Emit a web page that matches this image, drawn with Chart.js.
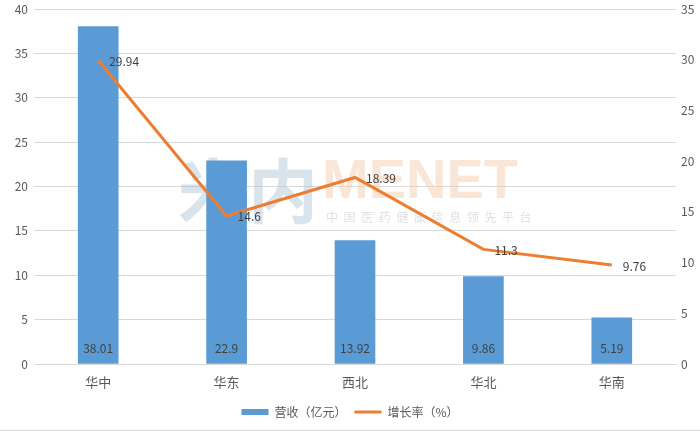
<!DOCTYPE html>
<html>
<head>
<meta charset="utf-8">
<script src="https://cdn.jsdelivr.net/npm/chart.js@4.4.0/dist/chart.umd.min.js"></script>
<style>
  html, body { margin: 0; padding: 0; background: #fff; }
  #wrap { position: relative; width: 700px; height: 432px; }
  #bottomline { position: absolute; left: 0; top: 430px; width: 700px; height: 1px; background: #dcdcdc; }
</style>
</head>
<body>
<div id="wrap">
  <canvas id="chart" width="700" height="432"></canvas>
  <div id="bottomline"></div>
</div>
<script>
const regions = ['华中', '华东', '西北', '华北', '华南'];
const revenue = [38.01, 22.9, 13.92, 9.86, 5.19];
const growth = [29.94, 14.6, 18.39, 11.3, 9.76];
const revenueLabel = '营收（亿元）';
const growthLabel = '增长率（%）';

const FONT = '"Noto Sans CJK SC", "Microsoft YaHei", sans-serif';

// watermark behind the marks
const watermark = {
  id: 'watermark',
  beforeDatasetsDraw(chart) {
    const ctx = chart.ctx;
    ctx.save();
    ctx.textBaseline = 'alphabetic';
    ctx.fillStyle = 'rgba(170,192,210,0.45)';
    ctx.font = 'bold 70px ' + FONT;
    ctx.fillText('米内', 178, 218);
    ctx.fillStyle = 'rgba(246,205,175,0.5)';
    ctx.font = 'bold 56px "Liberation Sans", sans-serif';
    ctx.fillText('MENET', 322, 198);
    ctx.fillStyle = 'rgba(200,205,210,0.6)';
    ctx.font = '12px ' + FONT;
    const txt = '中国医药健康信息领先平台';
    for (let i = 0; i < txt.length; i++) {
      ctx.fillText(txt[i], 326 + i * 17.6, 222);
    }
    ctx.restore();
  }
};

const valueLabels = {
  id: 'valueLabels',
  afterDatasetsDraw(chart) {
    const ctx = chart.ctx;
    ctx.save();
    ctx.font = '12px ' + FONT;
    ctx.fillStyle = '#404040';
    ctx.textBaseline = 'middle';
    const bars = chart.getDatasetMeta(0).data;
    ctx.textAlign = 'center';
    bars.forEach((bar, i) => {
      ctx.fillText(String(revenue[i]), bar.x, bar.base - 15);
    });
    const pts = chart.getDatasetMeta(1).data;
    ctx.textAlign = 'left';
    pts.forEach((p, i) => {
      ctx.fillText(String(growth[i]), p.x + 11, p.y + 1);
    });
    ctx.restore();
  }
};

function fitY(scale, w) {
  scale.width = w;
  scale.paddingTop = 9;
}

new Chart(document.getElementById('chart'), {
  data: {
    labels: regions,
    datasets: [
      {
        type: 'bar',
        label: revenueLabel,
        data: revenue,
        backgroundColor: '#5b9bd5',
        barThickness: 40,
        yAxisID: 'y',
        order: 2
      },
      {
        type: 'line',
        label: growthLabel,
        data: growth,
        borderColor: '#ed7d31',
        backgroundColor: '#ed7d31',
        borderWidth: 3,
        pointRadius: 0,
        pointStyle: 'line',
        tension: 0,
        yAxisID: 'y1',
        order: 1
      }
    ]
  },
  options: {
    responsive: false,
    animation: false,
    layout: { padding: { top: 0, left: 0, right: 0, bottom: 4 } },
    plugins: {
      tooltip: { enabled: false },
      legend: {
        position: 'bottom',
        labels: {
          usePointStyle: true,
          pointStyleWidth: 27,
          boxHeight: 6,
          padding: 8,
          color: '#595959',
          font: { family: FONT, size: 12 },
          generateLabels(chart) {
            return chart.data.datasets.map((ds, i) => ({
              text: ds.label,
              fillStyle: ds.backgroundColor,
              strokeStyle: ds.type === 'line' ? ds.borderColor : ds.backgroundColor,
              lineWidth: ds.type === 'line' ? 3 : 0,
              pointStyle: ds.type === 'line' ? 'line' : 'rect',
              fontColor: '#595959',
              datasetIndex: i,
              hidden: false
            }));
          }
        }
      }
    },
    scales: {
      x: {
        grid: { display: false },
        border: { color: '#d9d9d9' },
        ticks: { color: '#595959', font: { family: FONT, size: 13 }, padding: 2 },
        afterFit(scale) { scale.height = 34; }
      },
      y: {
        position: 'left',
        min: 0, max: 40,
        ticks: { stepSize: 5, color: '#595959', font: { family: FONT, size: 12 }, padding: 6 },
        grid: { color: '#d9d9d9', drawTicks: false },
        border: { display: false },
        afterFit(scale) { fitY(scale, 34); }
      },
      y1: {
        position: 'right',
        min: 0, max: 35,
        ticks: { stepSize: 5, color: '#595959', font: { family: FONT, size: 12 }, padding: 5 },
        grid: { display: false, drawTicks: false },
        border: { display: false },
        afterFit(scale) { fitY(scale, 24); }
      }
    }
  },
  plugins: [watermark, valueLabels]
});
</script>
</body>
</html>
